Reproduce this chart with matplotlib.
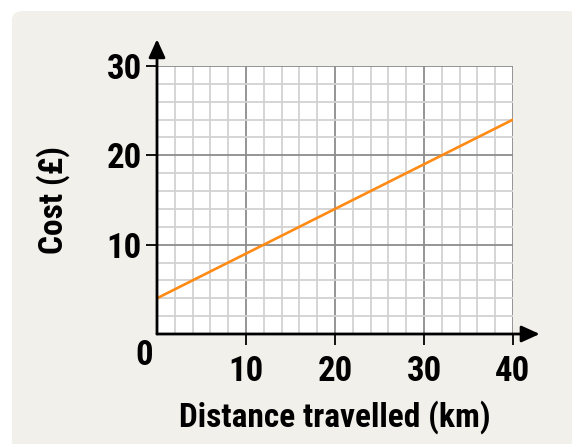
import matplotlib.pyplot as plt
import numpy as np
from matplotlib.patches import FancyBboxPatch

# data
distance = [0, 40]
cost = [4, 24]
x_ticks = [10, 20, 30, 40]
y_ticks = [10, 20, 30]

plt.rcParams['font.family'] = ['DejaVu Sans Condensed', 'Roboto Condensed',
                               'Open Sans Condensed', 'DejaVu Sans']
plt.rcParams['font.stretch'] = 'condensed'
plt.rcParams['font.weight'] = 'bold'
plt.rcParams['axes.labelweight'] = 'bold'

fig = plt.figure(figsize=(5.72, 4.44), dpi=100)
fig.patch.set_facecolor('white')

# panel behind the chart
panel = FancyBboxPatch((12 / 572, -0.1), 1.2, (444 - 11) / 444 + 0.1,
                       boxstyle="round,pad=0,rounding_size=0.02",
                       transform=fig.transFigure, facecolor='#f2f0ea',
                       edgecolor='none', zorder=-5)
fig.patches.append(panel)

ax = fig.add_axes([157 / 572, 110 / 444, 356 / 572, 268 / 444])
ax.set_zorder(1)
ax.set_facecolor('white')
ax.set_xlim(0, 40)
ax.set_ylim(0, 30)

# grid
ax.set_xticks(np.arange(0, 41, 2), minor=True)
ax.set_yticks(np.arange(0, 31, 2), minor=True)
ax.set_xticks(x_ticks)
ax.set_yticks(y_ticks)
ax.grid(which='minor', color='#d2d2d2', lw=1.3)
ax.grid(which='major', color='#8c8c8c', lw=1.3)
ax.set_axisbelow(True)
ax.tick_params(which='minor', length=0)
ax.tick_params(which='major', length=8, width=1.3, color='black',
               labelsize=25, pad=7)
ax.tick_params(axis='y', pad=3)

for s in ['top', 'right', 'left', 'bottom']:
    ax.spines[s].set_visible(False)

ax.plot(distance, cost, color='#ff8a14', lw=1.9, zorder=3)

# axis arrows
arrow = dict(arrowstyle='-|>,head_length=1.1,head_width=0.5',
             color='black', lw=2, shrinkA=0, shrinkB=0)
ax.annotate('', xy=(0, 1.1), xycoords='axes fraction', xytext=(0, 0),
            arrowprops=arrow, annotation_clip=False)
ax.annotate('', xy=(1.075, 0), xycoords='axes fraction', xytext=(0, 0),
            arrowprops=arrow, annotation_clip=False)

ax.text(-0.035, -0.08, '0', transform=ax.transAxes, fontsize=25,
        ha='center', va='center')

ax.set_xlabel('Distance travelled (km)', fontsize=24, labelpad=9)
ax.set_ylabel('Cost (£)', fontsize=24, labelpad=26)

fig.savefig('out.png', dpi=100)
